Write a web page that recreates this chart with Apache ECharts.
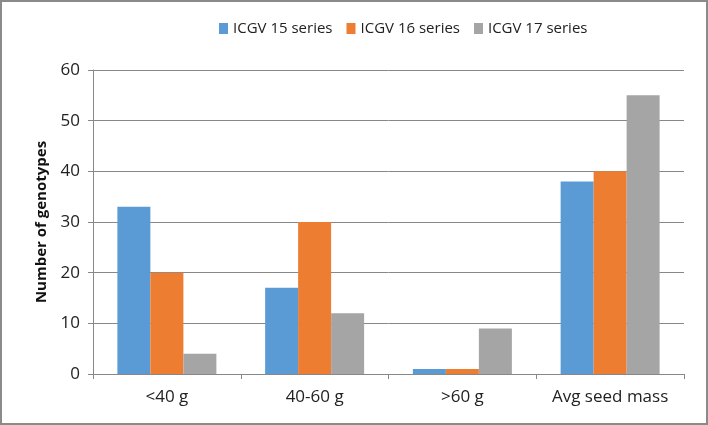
<!DOCTYPE html>
<html><head><meta charset="utf-8">
<script src="https://cdn.jsdelivr.net/npm/echarts@6/dist/echarts.min.js"></script>
<style>html,body{margin:0;padding:0;background:#fff}#c{position:absolute;left:0;top:0;width:708px;height:425px;box-sizing:border-box;border:2px solid #8a8a8a}</style>
</head><body><div id="c"></div>
<script>
const categories = ['<40 g', '40-60 g', '>60 g', 'Avg seed mass'];
const seriesNames = ['ICGV 15 series', 'ICGV 16 series', 'ICGV 17 series'];
const icgv15 = [33, 17, 1, 38];
const icgv16 = [20, 30, 1, 40];
const icgv17 = [4, 12, 9, 55];
const colors = ['#5B9BD5', '#ED7D31', '#A5A5A5'];
const chart = echarts.init(document.getElementById('c'), null, {renderer: 'canvas'});
const font = 'Open Sans';
const data = [icgv15, icgv16, icgv17];
chart.setOption({
  animation: false,
  color: colors,
  legend: {
    top: 14, left: 212,
    itemWidth: 9, itemHeight: 11, itemGap: 14,
    icon: 'rect',
    textStyle: {fontFamily: font, fontSize: 15, color: '#222'},
    data: seriesNames
  },
  grid: {left: 91, right: 22, top: 68, bottom: 49, containLabel: false},
  xAxis: {
    type: 'category', data: categories,
    axisLine: {lineStyle: {color: '#888', width: 1}},
    axisTick: {show: true, length: 5, lineStyle: {color: '#888'}},
    axisLabel: {fontFamily: font, fontSize: 17, color: '#222', margin: 15, interval: 0, hideOverlap: false}
  },
  yAxis: {
    type: 'value', min: 0, max: 60, interval: 10,
    name: 'Number of genotypes', nameLocation: 'middle', nameGap: 44,
    nameTextStyle: {fontFamily: font, fontSize: 15, fontWeight: 'bold', color: '#111'},
    axisLine: {show: true, lineStyle: {color: '#888'}},
    axisTick: {show: true, length: 5, lineStyle: {color: '#888'}},
    splitLine: {lineStyle: {color: '#888', width: 1}},
    axisLabel: {fontFamily: font, fontSize: 17, color: '#222', margin: 13}
  },
  series: seriesNames.map((n, i) => ({
    name: n, type: 'bar', data: data[i],
    barGap: '0%', barCategoryGap: '33%'
  }))
});
</script></body></html>
